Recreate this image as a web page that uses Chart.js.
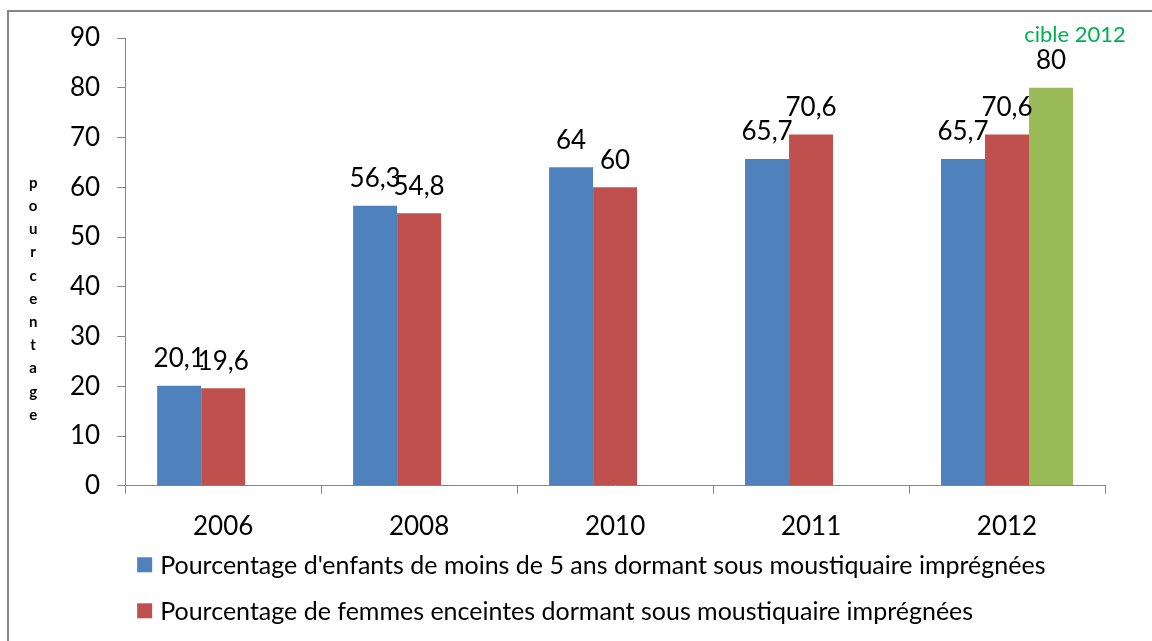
<!DOCTYPE html>
<html>
<head>
<meta charset="utf-8">
<script src="https://cdn.jsdelivr.net/npm/chart.js@4.4.0/dist/chart.umd.min.js"></script>
<style>
  html, body { margin: 0; padding: 0; background: #fff; }
  #wrap { position: relative; width: 1152px; height: 641px; }
</style>
</head>
<body>
<div id="wrap"><canvas id="chart"></canvas></div>
<script>
  // data
  var years = ['2006', '2008', '2010', '2011', '2012'];
  var enfants = [20.1, 56.3, 64, 65.7, 65.7];
  var femmes = [19.6, 54.8, 60, 70.6, 70.6];
  var cible = [null, null, null, null, 80];
  var yTicks = [0, 10, 20, 30, 40, 50, 60, 70, 80, 90];

  var labelEnfants = "Pourcentage d'enfants de moins de 5 ans dormant sous moustiquaire imprégnées";
  var labelFemmes = "Pourcentage de femmes enceintes dormant sous moustiquaire imprégnées";
  var labelCible = 'cible 2012';
  var axisTitle = 'pourcentage';

  var FONT = 'Lato, "Open Sans", sans-serif';
  var GREY = '#868686';

  function fmt(v) {
    return String(v).replace('.', ',');
  }

  // grey frame round the whole chart (runs off right/bottom like the source)
  var framePlugin = {
    id: 'frame',
    beforeDraw: function (chart) {
      var ctx = chart.ctx;
      ctx.save();
      ctx.strokeStyle = GREY;
      ctx.lineWidth = 2;
      ctx.strokeRect(8, 11, chart.width + 20, chart.height + 20);
      ctx.restore();
    }
  };

  // numbers above the bars, plus the green target caption
  var valuePlugin = {
    id: 'values',
    afterDatasetsDraw: function (chart) {
      var ctx = chart.ctx;
      ctx.save();
      ctx.textAlign = 'center';
      ctx.textBaseline = 'middle';
      chart.data.datasets.forEach(function (ds, i) {
        var meta = chart.getDatasetMeta(i);
        meta.data.forEach(function (bar, j) {
          var v = ds.data[j];
          if (v === null) return;
          ctx.fillStyle = '#000';
          ctx.font = '26px ' + FONT;
          ctx.fillText(fmt(v), bar.x, bar.y - 27);
          if (ds.caption) {
            ctx.fillStyle = '#00B050';
            ctx.font = '22px ' + FONT;
            ctx.fillText(ds.label, bar.x + 24, bar.y - 53);
          }
        });
      });
      ctx.restore();
    }
  };

  // stacked upright letters for the y title, and the two-line legend
  var sidePlugin = {
    id: 'side',
    afterDraw: function (chart) {
      var ctx = chart.ctx;
      var area = chart.chartArea;
      ctx.save();
      ctx.fillStyle = '#000';
      ctx.textAlign = 'center';
      ctx.textBaseline = 'middle';
      ctx.font = 'bold 15px ' + FONT;
      var letters = axisTitle.split('');
      for (var k = 0; k < letters.length; k++) {
        ctx.fillText(letters[k], area.left - 92, area.top + 145 + k * 23.2);
      }

      ctx.textAlign = 'left';
      ctx.font = '25px ' + FONT;
      var row = 0;
      chart.data.datasets.forEach(function (ds) {
        if (ds.caption) return;
        var y = area.bottom + 79 + row * 46;
        ctx.fillStyle = ds.backgroundColor;
        ctx.fillRect(area.left + 12, y - 7.5, 15, 15);
        ctx.fillStyle = '#000';
        ctx.fillText(ds.label, area.left + 35, y + 1);
        row++;
      });
      ctx.restore();
    }
  };

  new Chart(document.getElementById('chart'), {
    type: 'bar',
    data: {
      labels: years,
      datasets: [
        { label: labelEnfants, data: enfants, backgroundColor: '#4F81BD' },
        { label: labelFemmes, data: femmes, backgroundColor: '#C0504D' },
        { label: labelCible, data: cible, backgroundColor: '#9BBB59', caption: true }
      ]
    },
    options: {
      responsive: true,
      maintainAspectRatio: false,
      animation: false,
      categoryPercentage: 0.6735,
      barPercentage: 1,
      layout: { padding: { left: 53, right: 47, top: 38, bottom: 82 } },
      plugins: {
        legend: { display: false },
        tooltip: { enabled: false }
      },
      scales: {
        x: {
          grid: {
            offset: true,
            drawOnChartArea: false,
            drawTicks: true,
            tickLength: 8,
            color: GREY
          },
          border: { color: GREY, width: 1 },
          ticks: { color: '#000', padding: 17, font: { family: FONT, size: 26 } }
        },
        y: {
          min: 0,
          max: 90,
          afterBuildTicks: function (scale) {
            scale.ticks = yTicks.map(function (v) { return { value: v }; });
          },
          grid: {
            drawOnChartArea: false,
            drawTicks: true,
            tickLength: 8,
            color: GREY
          },
          border: { color: GREY, width: 1 },
          ticks: { color: '#000', padding: 17, font: { family: FONT, size: 26 } }
        }
      }
    },
    plugins: [framePlugin, valuePlugin, sidePlugin]
  });
</script>
</body>
</html>
